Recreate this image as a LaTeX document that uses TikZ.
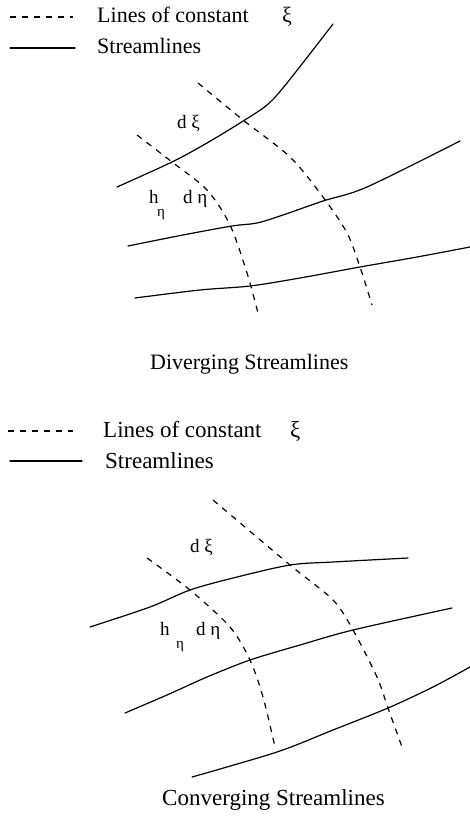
\documentclass[tikz,border=0pt]{standalone}
\usepackage{fontspec}
\setmainfont{Liberation Serif}
\begin{document}
\begin{tikzpicture}[x=1pt,y=-1pt,
  stream/.style={line width=1.2pt,line cap=round},
  constxi/.style={line width=1.2pt,dash pattern=on 6pt off 6pt},
  toptxt/.style={font=\fontsize{22}{24}\selectfont,inner sep=0pt,anchor=base west},
  bottxt/.style={font=\fontsize{23}{25}\selectfont,inner sep=0pt,anchor=base west},
  lbl/.style={font=\fontsize{19}{21}\selectfont,inner sep=0pt,anchor=base west},
  sub/.style={font=\fontsize{15}{17}\selectfont,inner sep=0pt,anchor=base west}]
\useasboundingbox (0,0) rectangle (470,816);
% ---------- Diverging ----------
\draw[constxi] (10,17) -- (73,17);
\node[toptxt] (tl1) at (97,23) {Lines of constant};
\node[toptxt] (tx1) at (282,23) {ξ};
\draw[stream] (10,48) -- (75,48);
\node[toptxt] (ts1) at (97,53) {Streamlines};
\draw[stream] plot[smooth,tension=0.5] coordinates {(117,187) (172,162) (207,143) (240,123) (267,105) (287,83) (333,24)};
\draw[stream] plot[smooth,tension=0.5] coordinates {(128,246) (183,235) (232,226) (257,223) (283,215) (323,201) (367,187) (460,141)};
\draw[stream] plot[smooth,tension=0.5] coordinates {(135,298) (200,290) (250,286) (300,278) (360,267) (417,257) (470,247)};
\draw[constxi] plot[smooth,tension=0.5] coordinates {(137,135) (172,162) (207,190) (230,225) (247,273) (258,313)};
\draw[constxi] plot[smooth,tension=0.5] coordinates {(198,83) (243,120) (290,157) (323,197) (347,233) (360,267) (372,305)};
\node[lbl] (tdxi) at (177,128) {d ξ};
\node[lbl] (th) at (149,203) {h};
\node[sub] (theta) at (157,216) {η};
\node[lbl] (tdeta) at (183,203) {d η};
\node[toptxt] (ttitle) at (150,369) {Diverging Streamlines};
% ---------- Converging ----------
\draw[constxi] (8,431) -- (73,431);
\node[bottxt] (bl1) at (103,437) {Lines of constant};
\node[bottxt] (bx1) at (290,437) {ξ};
\draw[stream] (10,461) -- (82,461);
\node[bottxt] (bs1) at (105,468) {Streamlines};
\draw[stream] plot[smooth,tension=0.5] coordinates {(90,627) (150,607) (190,590) (233,578) (290,565) (333,562) (408,558)};
\draw[stream] plot[smooth,tension=0.5] coordinates {(125,713) (167,695) (207,677) (250,660) (300,645) (353,630) (452,608)};
\draw[stream] plot[smooth,tension=0.5] coordinates {(192,777) (277,752) (333,730) (388,708) (433,687) (470,667)};
\draw[constxi] plot[smooth,tension=0.5] coordinates {(147,558) (190,590) (230,627) (250,660) (263,697) (275,747)};
\draw[constxi] plot[smooth,tension=0.5] coordinates {(213,500) (290,565) (333,600) (353,630) (377,677) (388,708) (402,747)};
\node[lbl] (bdxi) at (190,552) {d ξ};
\node[lbl] (bh) at (160,635) {h};
\node[sub] (beta) at (176,648) {η};
\node[lbl] (bdeta) at (196,635) {d η};
\node[bottxt] (btitle) at (162,805) {Converging Streamlines};
\end{tikzpicture}
\end{document}
